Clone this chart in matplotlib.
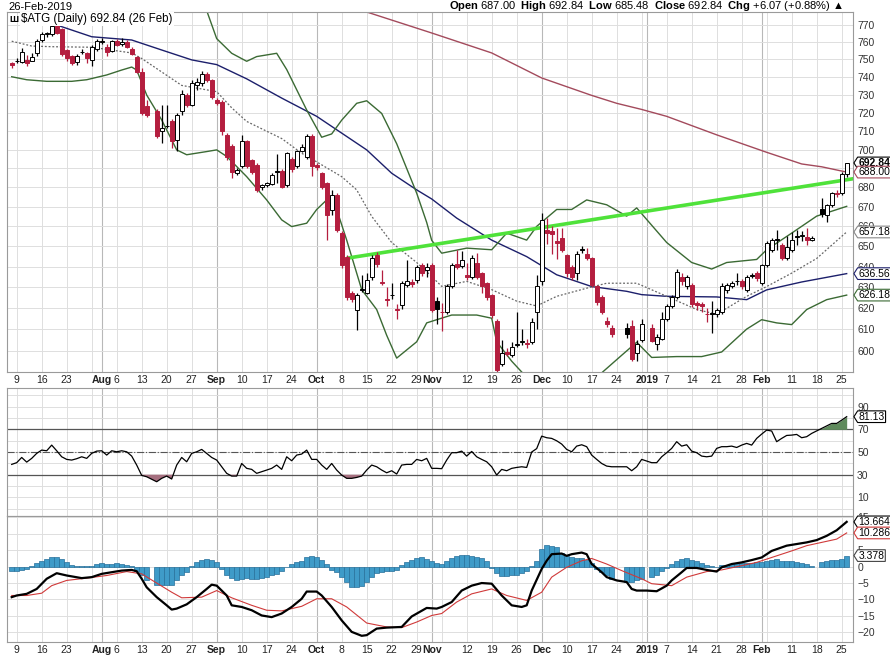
import numpy as np
import pandas as pd
import matplotlib
matplotlib.use("Agg")
import matplotlib.pyplot as plt
from matplotlib.path import Path

plt.rcParams['font.family'] = 'Liberation Sans'
plt.rcParams['mathtext.fontset'] = 'custom'
plt.rcParams['mathtext.rm'] = 'Liberation Sans'
plt.rcParams['mathtext.bf'] = 'Liberation Sans:bold'

nan = np.nan
dates = pd.bdate_range('2018-07-06', '2019-02-26')

# daily candles (NaN = no data that day)
opens = [747.8, 748.8, 748.3, 749.5, 749.2, 753.5, 761.3, 764.5, 764.5, 769.7,
         767.6, 755.5, 752.2, 748.7, 754.0, 753.6, 749.5, 755.8, 760.1, 757.0,
         754.7, 760.4, 758.6, 760.2, 756.1, 751.2, 743.0, 723.5, nan, 720.8,
         710.2, 712.8, 715.2, 705.2, 720.8, 729.7, 724.4, 735.6, 736.5, 741.9,
         738.3, 727.0, 726.0, 708.0, 701.9, 687.5, 691.0, 704.4, 694.5, 691.9,
         680.4, 681.3, 681.8, 688.5, 688.7, 681.2, 694.8, 691.0, 699.2, 696.2,
         707.1, 691.5, 687.3, 682.1, 668.5, 676.0, 656.6, 644.8, 627.0, 619.0,
         628.9, 627.3, 634.9, 645.6, 632.6, 624.5, 626.4, 619.5, 621.6, 631.2,
         632.7, 633.7, 640.8, 638.2, 640.8, 623.5, 618.3, 618.3, 630.4, 641.1,
         640.4, 635.8, 635.1, 641.6, 636.7, 631.9, 626.0, 614.1, 594.0, 599.3,
         598.2, 602.7, 604.1, 603.7, 604.1, 618.3, 633.0, 658.1, 657.6, 652.7,
         654.2, 645.6, 639.9, 636.7, 648.5, 646.4, 644.0, 630.4, 625.2, 614.1,
         610.8, nan, nan, 610.8, 611.5, 599.0, 604.8, nan, 610.8, 603.2,
         605.7, 614.9, 620.8, 625.2, 635.1, 630.4, 631.2, 622.6, 622.0, 617.3,
         617.3, 617.4, 618.3, 628.7, 630.4, 632.8, 632.8, 628.7, 635.8, 636.7,
         631.9, 640.8, 648.2, 653.6, 650.8, 644.0, 648.2, 654.9, 655.2, 654.6,
         653.2, nan, 668.7, 665.8, 670.8, 677.2, 677.1, 687.0]
highs = [748.7, 750.8, 756.7, 752.5, 753.8, 761.6, 765.6, 766.0, 770.5, 770.0,
         768.0, 756.0, 752.8, 752.9, 756.0, 754.5, 758.5, 761.7, 762.6, 759.0,
         761.2, 761.5, 762.6, 761.0, 757.0, 751.8, 745.0, 727.0, nan, 722.0,
         724.3, 724.3, 716.6, 719.9, 732.4, 731.0, 738.0, 739.1, 743.1, 742.6,
         739.0, 728.0, 727.0, 709.0, 703.0, 690.0, 708.0, 705.0, 695.0, 693.0,
         682.0, 683.0, 687.5, 697.4, 689.5, 698.5, 696.0, 700.0, 703.0, 708.5,
         708.5, 693.0, 688.0, 683.0, 678.4, 677.0, 657.5, 645.5, 628.0, 627.0,
         635.7, 637.0, 645.6, 647.4, 638.3, 630.0, 632.2, 622.0, 633.0, 643.4,
         634.0, 641.0, 642.0, 641.6, 642.0, 625.2, 622.3, 631.7, 641.7, 648.3,
         647.6, 641.6, 645.6, 646.5, 637.5, 632.5, 626.5, 615.0, 605.0, 601.5,
         604.0, 618.3, 610.0, 605.5, 615.5, 636.0, 667.0, 664.5, 660.0, 659.2,
         659.2, 646.0, 641.0, 647.5, 650.0, 649.0, 644.5, 631.0, 626.0, 616.0,
         612.0, nan, nan, 613.0, 614.5, 605.0, 614.9, nan, 612.5, 608.0,
         618.0, 622.0, 626.0, 639.0, 637.0, 636.0, 632.0, 623.5, 623.0, 620.0,
         623.5, 620.0, 632.0, 632.0, 633.0, 636.7, 634.0, 636.0, 637.0, 638.0,
         641.5, 652.5, 654.0, 658.2, 651.5, 655.2, 657.2, 658.2, 657.6, 659.4,
         655.0, nan, 674.3, 671.5, 677.5, 678.5, 688.0, 692.84]
lows = [745.2, 747.8, 747.8, 746.0, 748.8, 752.2, 760.0, 763.0, 763.5, 764.5,
        752.0, 748.9, 746.8, 747.0, 753.0, 747.8, 746.3, 755.0, 759.1, 752.0,
        754.0, 757.5, 758.0, 756.3, 752.5, 742.0, 719.0, 717.7, nan, 706.0,
        703.5, 711.4, 700.9, 699.1, 719.0, 723.0, 723.5, 732.8, 735.0, 737.0,
        727.5, 724.0, 708.0, 694.5, 684.7, 686.5, 690.0, 690.0, 687.0, 677.5,
        678.5, 680.0, 681.0, 682.2, 679.5, 680.0, 688.0, 690.0, 698.5, 695.0,
        686.0, 689.0, 679.0, 653.0, 666.0, 657.0, 639.5, 624.0, 623.0, 609.8,
        627.5, 626.5, 633.5, 640.0, 631.0, 621.2, 624.5, 615.0, 619.7, 630.0,
        630.0, 632.0, 635.5, 635.0, 618.0, 612.4, 609.2, 617.0, 629.5, 639.0,
        639.5, 633.4, 634.0, 634.0, 627.0, 624.0, 615.5, 590.5, 593.0, 597.5,
        597.0, 602.0, 602.5, 601.5, 603.0, 610.0, 631.0, 651.0, 646.3, 643.8,
        647.0, 635.0, 633.5, 633.4, 646.6, 643.0, 630.0, 621.5, 617.0, 611.0,
        606.5, nan, nan, 606.0, 595.5, 595.5, 604.0, nan, 604.0, 600.3,
        605.0, 614.0, 620.0, 624.5, 631.0, 629.0, 620.5, 619.0, 618.0, 613.3,
        608.3, 616.0, 617.0, 627.0, 629.5, 631.2, 629.0, 627.5, 634.5, 633.0,
        631.0, 640.0, 647.0, 648.2, 643.0, 643.0, 647.0, 650.8, 652.8, 650.8,
        652.5, nan, 665.0, 662.0, 670.0, 675.0, 676.0, 685.48]
closes = [746.6, 749.3, 754.3, 748.0, 751.6, 760.8, 764.7, 765.2, 769.5, 765.3,
          753.3, 750.5, 747.8, 752.2, 754.5, 750.5, 756.9, 760.4, 760.5, 754.3,
          760.4, 758.1, 759.9, 757.1, 753.3, 743.0, 720.0, 718.8, nan, 707.1,
          711.5, 712.6, 704.4, 718.8, 730.6, 724.4, 736.5, 737.3, 741.9, 738.3,
          728.8, 725.2, 709.9, 696.2, 688.3, 689.2, 704.4, 691.0, 688.3, 678.6,
          681.3, 682.2, 686.5, 688.3, 680.4, 697.9, 689.4, 699.2, 701.5, 707.1,
          691.0, 690.8, 680.4, 665.8, 676.0, 658.2, 640.8, 625.2, 624.4, 626.0,
          628.7, 633.5, 644.0, 641.5, 631.9, 624.0, 626.1, 619.2, 632.0, 632.8,
          631.3, 639.9, 636.7, 639.9, 619.0, 619.5, 618.0, 630.4, 640.8, 640.0,
          643.2, 635.1, 644.0, 635.1, 630.4, 625.2, 616.5, 591.2, 599.0, 598.8,
          601.6, 603.2, 604.2, 603.2, 613.2, 630.4, 663.4, 656.6, 656.2, 651.5,
          648.3, 636.7, 635.1, 646.4, 648.2, 644.0, 631.0, 622.9, 618.2, 612.4,
          607.6, nan, nan, 607.7, 596.2, 603.2, 612.4, nan, 604.5, 606.6,
          614.9, 620.8, 625.2, 637.5, 632.8, 635.1, 621.8, 621.5, 621.0, 617.1,
          617.2, 619.1, 630.4, 631.2, 632.0, 632.9, 630.4, 635.1, 635.6, 634.2,
          640.8, 651.5, 653.1, 653.4, 644.0, 649.9, 653.4, 654.8, 655.4, 653.2,
          654.4, nan, 666.3, 670.8, 676.9, 676.5, 686.77, 692.84]

# overlay lines: trading-day number -> value
sma20_day = [0, 4, 8, 16, 24, 26, 34, 41, 44, 47, 54, 58, 61, 66, 69, 72, 76, 81, 83, 86,
             91, 96, 101, 105, 109, 115, 119, 125, 131, 137, 141, 147, 151, 156, 161, 167]
sma20_val = [760.5, 757.7, 757.3, 757.0, 753.7, 750.5, 735.2, 731.7, 722.7, 715.2, 705.9,
             698.0, 693.4, 685.6, 678.7, 665.1, 651.9, 642.0, 637.5, 630.4, 632.8, 628.8,
             623.3, 621.0, 625.6, 629.5, 631.9, 631.9, 625.6, 619.3, 617.1, 625.6, 630.3,
             636.8, 644.0, 657.18]
bb_up_day = [37, 39, 41, 44, 47, 49, 53, 55, 59, 62, 64, 66, 69, 71, 74, 77, 81, 83, 84,
             86, 91, 96, 99, 103, 105, 109, 112, 115, 119, 123, 125, 127, 131, 136, 140,
             143, 149, 151, 156, 161, 167]
bb_up_val = [790.0, 778.5, 762.0, 753.5, 748.9, 751.6, 753.5, 744.2, 721.5, 706.6, 708.4,
             715.9, 725.2, 726.6, 719.6, 703.1, 677.0, 662.0, 653.0, 646.6, 649.1, 648.3,
             656.6, 653.1, 660.0, 668.6, 668.6, 673.5, 671.0, 665.2, 669.4, 663.5, 651.9,
             642.0, 638.8, 642.0, 643.5, 648.3, 656.6, 665.2, 670.2]
bb_lo_day = [0, 3, 7, 12, 15, 19, 22, 24, 25, 27, 30, 33, 35, 39, 41, 43, 47, 51, 54, 56,
             59, 61, 63, 65, 67, 70, 73, 75, 77, 81, 83, 85, 88, 93, 96, 97, 100, 102,
             106, 112, 118, 122, 125, 128, 133, 138, 142, 147, 150, 153, 156, 159, 163, 167]
bb_lo_val = [740.1, 738.4, 737.5, 737.5, 738.4, 741.1, 743.9, 745.6, 743.9, 729.8, 716.0,
             699.8, 697.2, 698.9, 699.8, 696.3, 685.6, 673.5, 663.3, 659.9, 661.6, 668.6,
             673.5, 668.6, 653.1, 628.8, 619.3, 607.2, 596.7, 604.2, 613.0, 614.5, 616.7,
             616.7, 615.2, 604.2, 595.3, 590.4, 582.0, 580.0, 590.0, 598.0, 604.0, 597.0,
             597.4, 597.4, 599.5, 610.1, 614.5, 613.0, 612.2, 619.3, 624.0, 626.18]
sma50_day = [9, 16, 24, 30, 36, 41, 47, 54, 61, 71, 76, 81, 84, 89, 96, 103, 109, 116,
             123, 126, 131, 141, 147, 151, 158, 167]
sma50_val = [770.0, 763.1, 761.2, 755.4, 749.7, 747.0, 738.9, 728.1, 718.0, 699.8,
             687.4, 678.7, 674.0, 664.2, 653.1, 644.9, 636.0, 630.3, 628.0, 626.4, 625.6,
             625.3, 624.0, 628.7, 632.5, 636.56]
sma200_day = [64, 71, 84, 96, 106, 116, 121, 126, 131, 141, 151, 158, 162, 167]
sma200_val = [783.0, 777.7, 765.3, 753.7, 739.4, 729.6, 725.2, 721.8, 718.0, 707.9, 698.5,
              692.3, 690.8, 688.0]
trend_day = [67, 169]
trend_val = [644.1, 684.8]

# RSI(14)
rsi_day = list(range(0, 28)) + list(range(29, 121)) + [123, 124, 125, 126] + \
    list(range(128, 161)) + list(range(162, 168))
rsi_val = [39.1, 40.6, 45.2, 41.1, 44.4, 48.8, 51.7, 51.1, 56.1, 51.1,
           45.8, 43.5, 42.9, 44.1, 45.8, 44.4, 48.8, 50.8, 51.1, 47.3,
           51.1, 50.2, 51.1, 50.2, 46.4, 38.5, 29.4, 28.2,
           23.8, 26.8, 28.8, 26.2, 38.5, 45.2, 41.4, 48.8, 50.2, 52.3, 48.8,
           45.2, 42.9, 37.0, 31.2, 28.8, 28.8, 39.9, 35.6, 34.7, 31.2,
           32.6, 34.1, 35.6, 38.5, 34.7, 45.8, 42.3, 47.3, 48.2, 51.7,
           43.5, 43.5, 38.5, 34.7, 39.9, 34.1, 29.7, 26.8, 26.8, 27.6,
           28.8, 34.1, 38.5, 37.0, 34.1, 31.7, 33.5, 30.6, 38.5, 39.1,
           39.1, 43.5, 42.3, 44.4, 35.6, 35.6, 35.3, 42.9, 49.4, 49.4,
           50.8, 46.4, 50.5, 45.8, 43.5, 41.4, 37.0, 29.7, 34.7, 33.5,
           35.6, 36.4, 37.0, 36.4, 50.0, 53.0, 64.0, 62.6, 62.0, 59.9,
           57.0, 52.3, 50.2, 55.2, 56.4, 54.7, 47.3, 43.5, 39.9, 37.6, 37.0,
           37.0, 33.5, 37.0, 43.5,
           40.6, 40.6, 45.8, 49.4, 53.2, 59.1, 55.2, 56.4, 50.8, 49.4, 46.4, 45.8,
           46.4, 53.2, 54.7, 54.7, 55.2, 54.0, 56.1, 57.6, 56.1, 62.0, 65.8, 69.3,
           68.5, 59.1, 62.0, 64.6, 64.9, 65.5, 62.6, 63.5, 66.4,
           70.8, 72.9, 75.2, 75.2, 78.1, 81.13]

# MACD(12,26,9)
macd_day = [0, 1, 3, 5, 7, 9, 11, 14, 16, 18, 20, 22, 24, 25, 26, 27, 29, 31, 32, 33, 35,
            37, 39, 40, 41, 43, 44, 46, 48, 50, 52, 54, 56, 58, 59, 61, 62, 64, 66, 68, 70,
            71, 73, 75, 78, 80, 83, 85, 86, 88, 90, 92, 94, 96, 98, 100, 102, 103, 104, 106,
            107, 108, 110, 111, 112, 114, 115, 116, 118, 119, 121, 123, 124, 125, 127, 129,
            131, 132, 134, 135, 137, 139, 141, 142, 144, 146, 148, 150, 152, 155, 157, 159,
            161, 163, 165, 167]
macd_val = [-9.3, -8.8, -8.3, -6.8, -3.7, -2.0, -2.7, -3.5, -3.2, -2.2, -1.7, -1.2, -1.0,
            -1.4, -3.7, -6.3, -9.3, -11.8, -13.1, -12.8, -11.5, -9.3, -6.8, -5.5, -5.8,
            -8.8, -11.8, -12.3, -13.3, -14.9, -15.4, -14.3, -12.3, -9.8, -7.6, -7.6, -8.8,
            -12.3, -16.4, -19.9, -21.1, -20.9, -18.9, -18.6, -18.4, -15.2, -12.6, -12.8,
            -12.3, -10.8, -7.3, -5.8, -5.0, -5.2, -8.8, -11.8, -12.3, -11.8, -7.3, -0.7,
            1.8, 3.8, 4.0, 3.3, 3.8, 4.3, 3.8, 0.8, -1.7, -3.2, -4.2, -4.7, -6.8, -7.3,
            -7.3, -7.5, -5.8, -4.2, -1.7, -0.4, -0.4, -1.0, -1.5, -0.2, 0.8, 1.3, 2.0, 2.8,
            4.8, 6.4, 6.9, 7.4, 8.1, 9.4, 11.1, 13.664]
signal_day = [0, 3, 6, 8, 11, 15, 19, 23, 26, 29, 32, 34, 38, 41, 44, 48, 51, 54, 58, 61,
              64, 67, 71, 75, 78, 81, 84, 86, 89, 92, 96, 99, 103, 106, 108, 111, 114, 116,
              119, 122, 126, 128, 132, 135, 139, 142, 146, 149, 152, 156, 159, 162, 165, 167]
signal_val = [-8.8, -8.8, -8.1, -5.8, -4.2, -3.5, -2.7, -1.5, -2.2, -5.0, -7.8, -9.5, -9.3,
              -7.3, -9.5, -11.8, -13.3, -13.5, -12.1, -9.8, -9.8, -12.3, -17.2, -18.4,
              -18.6, -16.9, -14.9, -14.3, -10.8, -8.3, -6.8, -8.8, -10.3, -7.8, -3.2, -0.2,
              1.8, 2.5, 0.8, -1.2, -3.7, -5.2, -5.8, -3.2, -1.5, -1.0, 0.3, 1.3, 2.8, 4.8,
              6.4, 7.4, 8.4, 10.286]
hist = [-1.2, -1.2, -1.0, -0.6, 0.2, 1.0, 1.8, 2.3, 2.8, 3.0,
        2.3, 1.3, 0.5, 0.3, 0.3, 0.3, 0.3, 0.8, 1.0, 0.8,
        0.8, 1.0, 0.8, 0.5, 0.3, -1.2, -2.7, -4.0, nan, -5.5,
        -5.5, -5.5, -5.5, -4.2, -2.7, -1.7, 0.1, 1.3, 2.0, 2.3,
        2.0, 1.3, -0.7, -2.4, -3.4, -4.0, -3.7, -3.4, -3.7, -3.7,
        -3.4, -3.2, -2.7, -2.2, -1.4, -0.2, 0.8, 1.3, 1.8, 2.8,
        3.1, 2.8, 2.0, 0.8, -1.0, -1.7, -3.2, -4.7, -6.1, -6.3,
        -5.8, -4.7, -3.2, -2.0, -1.7, -1.4, -1.2, -1.0, 0.6, 1.3,
        2.0, 2.5, 2.8, 2.3, 1.8, 1.0, 0.8, 1.6, 2.6, 3.3,
        3.6, 3.5, 3.3, 3.0, 2.6, 1.6, -0.4, -2.0, -3.0, -3.0,
        -2.7, -2.4, -2.0, -1.2, 0.3, 1.8, 5.4, 6.6, 6.4, 5.9,
        4.3, 3.3, 2.8, 2.6, 2.5, 2.0, 1.0, -0.7, -1.7, -2.7,
        -3.7, nan, nan, -4.7, -4.7, -4.2, -3.7, nan, -3.2, -2.7,
        -1.2, -0.4, 0.8, 1.8, 2.3, 2.5, 2.0, 1.6, 1.0, 0.6,
        0.3, -0.2, 0.5, 0.6, 0.8, 1.0, 1.0, 1.0, 1.0, 1.3,
        1.3, 1.8, 2.0, 2.3, 1.8, 1.6, 1.6, 1.3, 1.0, 0.8,
        0.3, nan, 1.3, 1.8, 2.0, 2.1, 2.3, 3.378]

RED = '#b41e3f'
GRID = '#dedede'
MONTH_GRID = '#b8b8b8'

day = np.arange(len(dates))
ds = pd.Series(dates)
mondays = np.flatnonzero(ds.dt.dayofweek == 0)
month_starts = np.flatnonzero(ds.dt.month != ds.dt.month.shift())[1:]
week_ticks = [m for m in mondays if np.min(np.abs(month_starts - m)) > 2]
tick_pos = list(week_ticks) + list(month_starts)
tick_lab = [str(dates[m].day) for m in week_ticks] + \
    [str(dates[m].year) if dates[m].month == 1 else dates[m].strftime('%b') for m in month_starts]

fig = plt.figure(figsize=(8.9, 6.55), dpi=100)
L, W = 0.0082, 0.9502
ax = fig.add_axes([L, 0.4321, W, 0.5496])
ax_rsi = fig.add_axes([L, 0.2122, W, 0.1954])
ax_macd = fig.add_axes([L, 0.0198, W, 0.1924])


def frame(a):
    for m in mondays:
        a.axvline(m, color=GRID, lw=0.7, zorder=0)
    for m in month_starts:
        a.axvline(m, color=MONTH_GRID, lw=0.8, zorder=0)
    a.set_xlim(-0.88, 168.26)
    for s in a.spines.values():
        s.set_color('#9a9a9a')
        s.set_linewidth(0.8)
    a.yaxis.tick_right()
    a.tick_params(axis='y', length=0, pad=3, labelsize=7.5, labelcolor='#333333')
    a.tick_params(axis='x', length=0, labelsize=7.5, labelcolor='#222222')


def tag_shape(x0, y0, width, height, mutation_size):
    # value flag: box with a small left-pointing tip
    pad = 0.08 * mutation_size
    x0, y0 = x0 - pad, y0 - pad
    width, height = width + 2 * pad, height + 2 * pad
    tip = 0.32 * height
    return Path([(x0, y0), (x0 + width, y0), (x0 + width, y0 + height),
                 (x0, y0 + height), (x0 - tip, y0 + height / 2), (x0, y0)], closed=True)


def tag(a, y, text, ec, weight='normal'):
    a.text(1.0 + 5.5 / 845, y, text, transform=a.get_yaxis_transform(), ha='left',
           va='center', fontsize=7.5, fontweight=weight, zorder=10, clip_on=False,
           bbox=dict(boxstyle=tag_shape, fc='white', ec=ec, lw=0.8))


# ---- price panel
frame(ax)
ax.set_yscale('log')
ax.set_ylim(590.4, 777.7)
price_ticks = np.arange(600, 771, 10)
for t in price_ticks:
    ax.axhline(t, color=GRID, lw=0.7, zorder=0)
ax.yaxis.set_minor_locator(matplotlib.ticker.NullLocator())
shown = [t for t in price_ticks if t != 690]
ax.set_yticks(shown, [str(t) for t in shown])
ax.set_xticks([])

ax.plot(sma200_day, sma200_val, color='#a34a5c', lw=1.0, zorder=2)
ax.plot(sma50_day, sma50_val, color='#1c1f6b', lw=1.0, zorder=2)
ax.plot(bb_up_day, bb_up_val, color='#3b6a34', lw=1.0, zorder=2)
ax.plot(bb_lo_day, bb_lo_val, color='#3b6a34', lw=1.0, zorder=2)
ax.plot(sma20_day, sma20_val, color='#666666', lw=0.9, ls=(0, (1.5, 1.5)), zorder=2)
ax.plot(trend_day, trend_val, color='#4fe23a', lw=2.6, zorder=2.5, solid_capstyle='butt')

o, h, lo, c = (np.array(v, float) for v in (opens, highs, lows, closes))
ok = ~np.isnan(c)
prev_c = pd.Series(c).ffill().shift().to_numpy()
prev_c[0] = o[0]
col = np.where(c < prev_c, RED, 'black')
face = np.where(c > o, 'white', col)
body_lo = np.minimum(o, c)
body_h = np.maximum(np.abs(c - o), 0.25)
ax.vlines(day[ok], lo[ok], h[ok], colors=col[ok], lw=0.9, zorder=3)
ax.bar(day[ok], body_h[ok], bottom=body_lo[ok], width=0.74, color=face[ok],
       edgecolor=col[ok], linewidth=0.7, zorder=4)

tag(ax, 692.84, '692.84', 'black', 'bold')
tag(ax, 688.00, '688.00', '#a34a5c')
tag(ax, 657.18, '657.18', '#888888')
tag(ax, 636.56, '636.56', '#1c1f6b')
tag(ax, 626.18, '626.18', '#3b6a34')

# ---- RSI panel
frame(ax_rsi)
ax_rsi.set_ylim(-6.4, 106.4)
for t in range(0, 101, 10):
    ax_rsi.axhline(t, color=GRID, lw=0.7, zorder=0)
ax_rsi.axhline(70, color='#555555', lw=0.9, zorder=1)
ax_rsi.axhline(30, color='#555555', lw=0.9, zorder=1)
ax_rsi.axhline(50, color='#555555', lw=0.8, ls='-.', zorder=1)
rd = np.array(rsi_day)
rv = np.array(rsi_val)
ax_rsi.fill_between(rd, rv, 70, where=rv > 70, interpolate=True, color='#5f8a5c', lw=0, zorder=1.5)
ax_rsi.fill_between(rd, rv, 30, where=rv < 30, interpolate=True, color='#a56f7f', lw=0, zorder=1.5)
ax_rsi.plot(rd, rv, color='black', lw=0.9, zorder=2)
ax_rsi.set_yticks([10, 30, 50, 70, 90])
ax_rsi.set_xticks(tick_pos, tick_lab)
ax_rsi.tick_params(axis='x', top=True, bottom=False, labeltop=True, labelbottom=False, pad=2)
tag(ax_rsi, 81.13, '81.13', 'black')

# ---- MACD panel
frame(ax_macd)
ax_macd.set_ylim(-23.0, 15.45)
for t in range(-20, 16, 5):
    ax_macd.axhline(t, color=GRID, lw=0.7, zorder=0)
ax_macd.bar(day, hist, width=1.0, color='#3f9bc8', edgecolor='#27709a', linewidth=0.5, zorder=1.5)
ax_macd.plot(signal_day, signal_val, color='#d03a3a', lw=0.8, zorder=2)
ax_macd.plot(macd_day, macd_val, color='black', lw=1.6, zorder=2.2)
macd_ticks = [t for t in range(-20, 16, 5) if t != 10]
ax_macd.set_yticks(macd_ticks)
ax_macd.set_xticks(tick_pos, tick_lab)
ax_macd.tick_params(axis='x', pad=2)
tag(ax_macd, 13.664, '13.664', 'black')
tag(ax_macd, 10.286, '10.286', '#d03a3a')
tag(ax_macd, 3.378, '3.378', '#444444')

for a in (ax_rsi, ax_macd):
    for lab in a.get_xticklabels()[len(week_ticks):]:
        lab.set_fontweight('bold')

# ---- header texts
fig.text(8 / 890, 1 - 7 / 655, '26-Feb-2019', fontsize=8, va='center', ha='left')
fig.text(843 / 890, 1 - 6 / 655,
         r'$\bf{Open}$ 687.00  $\bf{High}$ 692.84  $\bf{Low}$ 685.48  $\bf{Close}$ 692.84  '
         r'$\bf{Chg}$ +6.07 (+0.88%) ' + '\u25b2',
         fontsize=8, va='center', ha='right')
fig.text(9 / 890, 1 - 19 / 655, '\u0428', fontsize=6.5, fontweight='bold', va='center', ha='left')
fig.text(21 / 890, 1 - 19 / 655, r'\$ATG (Daily) 692.84 (26 Feb)', fontsize=8.3,
         va='center', ha='left',
         bbox=dict(boxstyle='square,pad=0.1', fc='white', ec='none'))

fig.savefig('out.png', dpi=100)
